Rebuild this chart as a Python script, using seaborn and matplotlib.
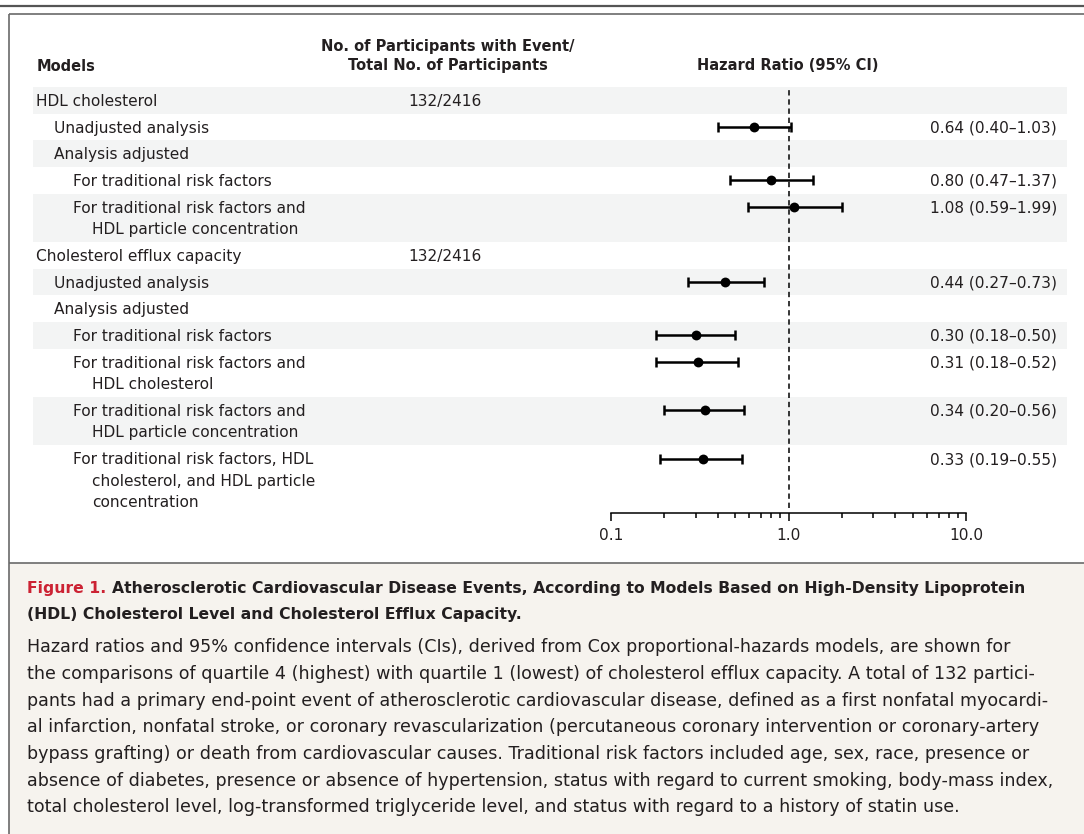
import matplotlib
matplotlib.use("Agg")
import matplotlib.pyplot as plt
import matplotlib.ticker as mticker
from matplotlib.patches import Rectangle
import numpy as np
import pandas as pd
import seaborn as sns

# ---- data -------------------------------------------------------------
models = [
    "HDL cholesterol",
    "Unadjusted analysis",
    "Analysis adjusted",
    "For traditional risk factors",
    "For traditional risk factors and\nHDL particle concentration",
    "Cholesterol efflux capacity",
    "Unadjusted analysis",
    "Analysis adjusted",
    "For traditional risk factors",
    "For traditional risk factors and\nHDL cholesterol",
    "For traditional risk factors and\nHDL particle concentration",
    "For traditional risk factors, HDL\ncholesterol, and HDL particle\nconcentration",
]
levels = [0, 1, 1, 2, 2, 0, 1, 1, 2, 2, 2, 2]
events = ["132/2416", "", "", "", "", "132/2416", "", "", "", "", "", ""]
hazard_ratio = [np.nan, 0.64, np.nan, 0.80, 1.08, np.nan, 0.44, np.nan, 0.30, 0.31, 0.34, 0.33]
ci_low = [np.nan, 0.40, np.nan, 0.47, 0.59, np.nan, 0.27, np.nan, 0.18, 0.18, 0.20, 0.19]
ci_high = [np.nan, 1.03, np.nan, 1.37, 1.99, np.nan, 0.73, np.nan, 0.50, 0.52, 0.56, 0.55]
x_ticks = [0.1, 1.0, 10.0]
x_tick_labels = ["0.1", "1.0", "10.0"]

caption_title_lead = "Figure 1."
caption_title = [
    "Atherosclerotic Cardiovascular Disease Events, According to Models Based on High-Density Lipoprotein",
    "(HDL) Cholesterol Level and Cholesterol Efflux Capacity.",
]
caption_body = [
    "Hazard ratios and 95% confidence intervals (CIs), derived from Cox proportional-hazards models, are shown for",
    "the comparisons of quartile 4 (highest) with quartile 1 (lowest) of cholesterol efflux capacity. A total of 132 partici-",
    "pants had a primary end-point event of atherosclerotic cardiovascular disease, defined as a first nonfatal myocardi-",
    "al infarction, nonfatal stroke, or coronary revascularization (percutaneous coronary intervention or coronary-artery",
    "bypass grafting) or death from cardiovascular causes. Traditional risk factors included age, sex, race, presence or",
    "absence of diabetes, presence or absence of hypertension, status with regard to current smoking, body-mass index,",
    "total cholesterol level, log-transformed triglyceride level, and status with regard to a history of statin use.",
]

df = pd.DataFrame({"model": models, "level": levels, "events": events,
                   "hr": hazard_ratio, "lo": ci_low, "hi": ci_high})

# ---- layout (pixels) --------------------------------------------------
W, H = 1084, 834
ROW_TOP = 87.0
ROW_H = 26.7
LINE_H = 21.5
BASE_OFF = 5.5
INDENT = {0: 36, 1: 54, 2: 73}
CONT_INDENT = 19
X_EVENTS = 408
X_VALUES = 1057
X_HEAD_EVENTS = 448
FOREST_L, FOREST_R, AXIS_Y = 611, 966, 513

TEXT = "#231f20"
SHADE = "#f3f4f4"
CAPTION_BG = "#f6f3ee"
RULE = "#6a6a6a"
RED = "#cc2233"

sns.set_theme(style="white")
plt.rcParams["font.family"] = ["DejaVu Sans"]

fig = plt.figure(figsize=(W / 100, H / 100), dpi=100)
fig.canvas.draw()
renderer = fig.canvas.get_renderer()


def text_width(text, size, weight="normal"):
    probe = fig.text(0, 0, text, fontsize=size, weight=weight)
    w = probe.get_window_extent(renderer=renderer).width
    probe.remove()
    return w


def fitted_size(text, width_px, weight="normal"):
    """Font size at which `text` spans `width_px` pixels."""
    return 10 * width_px / text_width(text, 10, weight)


FS = fitted_size("HDL cholesterol", 121)
FS_HEAD = fitted_size("Hazard Ratio (95% CI)", 182, "bold")
FS_TITLE = fitted_size(caption_title_lead + " " + caption_title[0], 998, "bold")
mean_body_w = np.mean([text_width(s, 10) for s in caption_body[:-1]])
FS_BODY = 10 * 1008 / mean_body_w

n_lines = df["model"].str.count("\n") + 1
row_h = ROW_H + LINE_H * (n_lines - 1)
df["top"] = ROW_TOP + np.concatenate([[0.0], np.cumsum(row_h.values)[:-1]])
df["height"] = row_h.values
df["y"] = df["top"] + ROW_H / 2

bg = fig.add_axes([0, 0, 1, 1])
bg.set_xlim(0, W)
bg.set_ylim(H, 0)
bg.axis("off")

# frame rules and caption panel
bg.plot([0, W], [6, 6], color="#555555", lw=1.6, solid_capstyle="butt")
bg.plot([9, W], [14, 14], color=RULE, lw=1.2, solid_capstyle="butt")
bg.plot([9, 9], [14, H], color=RULE, lw=1.2, solid_capstyle="butt")
bg.add_patch(Rectangle((9, 563), W - 9, H - 563, color=CAPTION_BG, lw=0))
bg.plot([9, W], [563, 563], color=RULE, lw=1.2, solid_capstyle="butt")

# alternating row shading
for i, r in df.iterrows():
    if i % 2 == 0:
        bg.add_patch(Rectangle((33, r["top"]), 1067 - 33, r["height"], color=SHADE, lw=0))

# column headers
bg.text(37, 65 + BASE_OFF, "Models", ha="left", va="baseline", fontsize=FS_HEAD, weight="bold", color=TEXT)
bg.text(X_HEAD_EVENTS, 45 + BASE_OFF, "No. of Participants with Event/", ha="center", va="baseline",
        fontsize=FS_HEAD, weight="bold", color=TEXT)
bg.text(X_HEAD_EVENTS, 64 + BASE_OFF, "Total No. of Participants", ha="center", va="baseline",
        fontsize=FS_HEAD, weight="bold", color=TEXT)
bg.text(788, 64 + BASE_OFF, "Hazard Ratio (95% CI)", ha="center", va="baseline",
        fontsize=FS_HEAD, weight="bold", color=TEXT)

# row labels, event counts and estimates
for _, r in df.iterrows():
    for k, line in enumerate(r["model"].split("\n")):
        x = INDENT[r["level"]] + (CONT_INDENT if k else 0)
        bg.text(x, r["y"] + k * LINE_H + BASE_OFF, line, ha="left", va="baseline",
                fontsize=FS, color=TEXT)
    if r["events"]:
        bg.text(X_EVENTS, r["y"] + BASE_OFF, r["events"], ha="left", va="baseline",
                fontsize=FS, color=TEXT)
    if not np.isnan(r["hr"]):
        bg.text(X_VALUES, r["y"] + BASE_OFF,
                f"{r['hr']:.2f} ({r['lo']:.2f}\u2013{r['hi']:.2f})",
                ha="right", va="baseline", fontsize=FS, color=TEXT)

# forest panel on a log scale
fa = fig.add_axes([FOREST_L / W, 1 - AXIS_Y / H, (FOREST_R - FOREST_L) / W, (AXIS_Y - ROW_TOP) / H])
fa.patch.set_alpha(0)
est = df.dropna(subset=["hr"])
fa.errorbar(est["hr"], est["y"], xerr=[est["hr"] - est["lo"], est["hi"] - est["hr"]],
            fmt="none", ecolor="black", elinewidth=1.8, capsize=3.3, capthick=1.8, zorder=2)
sns.scatterplot(data=est, x="hr", y="y", ax=fa, color="black", s=50, edgecolor="black",
                linewidth=0, zorder=3, legend=False)
fa.axvline(1.0, ymin=5 / (AXIS_Y - ROW_TOP), ymax=1, color="black", lw=1.1,
           dashes=(3.5, 2.5), zorder=1)

fa.set_xscale("log")
fa.set_xlim(0.1, 10)
fa.set_ylim(AXIS_Y, ROW_TOP)
fa.set_xlabel("")
fa.set_ylabel("")
fa.set_yticks([])
for side in ["top", "left", "right"]:
    fa.spines[side].set_visible(False)
fa.spines["bottom"].set_color("black")
fa.spines["bottom"].set_linewidth(1.1)
fa.xaxis.set_major_locator(mticker.FixedLocator(x_ticks))
fa.xaxis.set_major_formatter(mticker.FixedFormatter(x_tick_labels))
fa.xaxis.set_minor_locator(mticker.LogLocator(base=10, subs=np.arange(2, 10)))
fa.xaxis.set_minor_formatter(mticker.NullFormatter())
fa.tick_params(axis="x", which="major", direction="out", length=6, width=1.1,
               color="black", labelsize=FS, labelcolor=TEXT, pad=5, bottom=True)
fa.tick_params(axis="x", which="minor", direction="out", length=3.8, width=1.1,
               color="black", bottom=True)

# caption
lead = bg.text(27, 588 + BASE_OFF, caption_title_lead + " ", ha="left", va="baseline",
               fontsize=FS_TITLE, weight="bold", color=RED)
fig.canvas.draw()
bb = lead.get_window_extent(renderer=renderer)
lead_w = bb.width * W / fig.bbox.width
bg.text(27 + lead_w, 588 + BASE_OFF, caption_title[0], ha="left", va="baseline",
        fontsize=FS_TITLE, weight="bold", color=TEXT)
bg.text(27, 614 + BASE_OFF, caption_title[1], ha="left", va="baseline",
        fontsize=FS_TITLE, weight="bold", color=TEXT)
for k, line in enumerate(caption_body):
    bg.text(27, 647 + k * 26.6 + BASE_OFF, line, ha="left", va="baseline",
            fontsize=FS_BODY, color=TEXT)

fig.savefig("out.png", dpi=100)
